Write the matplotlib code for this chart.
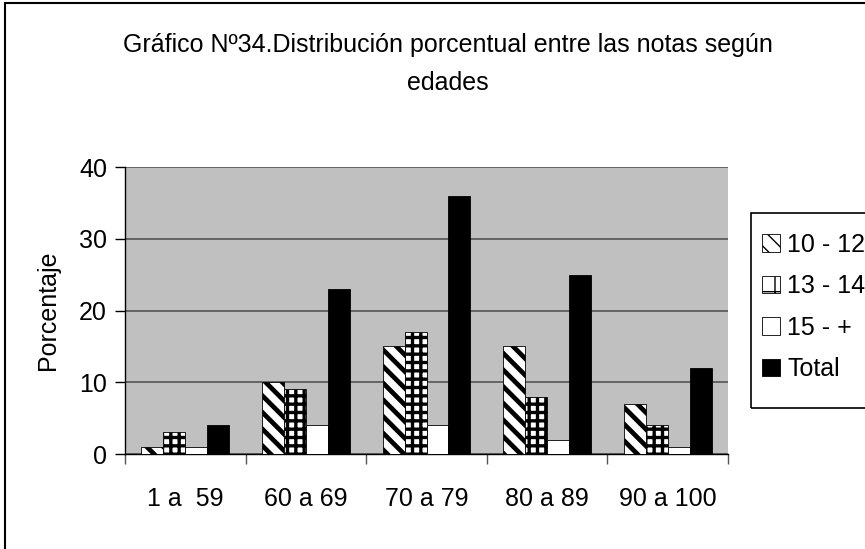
import matplotlib
matplotlib.use("Agg")
import matplotlib.pyplot as plt
from matplotlib.patches import Rectangle, Patch
import numpy as np

# Data: percentage of students in each grade band, by age group
categories = ["1 a  59", "60 a 69", "70 a 79", "80 a 89", "90 a 100"]
series_names = ["10 - 12", "13 - 14", "15 - +", "Total"]
edad_10_12 = [1, 10, 15, 15, 7]
edad_13_14 = [3, 9, 17, 8, 4]
edad_15_mas = [1, 4, 4, 2, 1]
total = [4, 23, 36, 25, 12]
y_ticks = [0, 10, 20, 30, 40]

series = [edad_10_12, edad_13_14, edad_15_mas, total]
faces = ["white", "white", "white", "black"]
hatches = ["\\\\", "++", "", ""]
hatch_lw = [3.4, 2.4, 1.0, 1.0]

FS = 18
plt.rcParams["font.family"] = ["Liberation Sans", "DejaVu Sans"]

fig = plt.figure(figsize=(8.65, 5.49), dpi=100)
ax = fig.add_axes([125 / 865, 1 - 454 / 549, (728 - 125) / 865, (454 - 167.3) / 549])
ax.set_facecolor("#c0c0c0")

n = len(series)
x = np.arange(len(categories))
width = 1 / (n + 1.5)
for i, (vals, fc, h, hl) in enumerate(zip(series, faces, hatches, hatch_lw)):
    with plt.rc_context({"hatch.linewidth": hl, "hatch.color": "black"}):
        bars = ax.bar(x + (i - (n - 1) / 2) * width, vals, width=width,
                      color=fc, edgecolor="black", linewidth=0.6, hatch=h,
                      label=series_names[i], zorder=3)
        for b in bars:
            if hasattr(b, "set_hatch_linewidth"):
                b.set_hatch_linewidth(hl)

ax.set_xlim(-0.5, len(categories) - 0.5)
ax.set_ylim(0, 40)
ax.set_yticks(y_ticks)
ax.set_yticklabels([str(t) for t in y_ticks])
ax.yaxis.grid(True, color="#555555", linewidth=1.2, zorder=1)
ax.set_axisbelow(True)

# Category labels centred on groups, ticks on group boundaries
ax.set_xticks(np.arange(len(categories) + 1) - 0.5)
ax.set_xticklabels([])
ax.set_xticks(x, minor=True)
ax.set_xticklabels(categories, minor=True)
ax.tick_params(axis="x", which="minor", length=0, pad=24, labelsize=FS)
ax.tick_params(axis="x", which="major", direction="out", length=7, width=1, color="#555555")
ax.tick_params(axis="y", direction="out", length=7, width=1, labelsize=FS, pad=6)

for side in ["top", "right"]:
    ax.spines[side].set_visible(False)
ax.spines["left"].set_linewidth(1.0)
ax.spines["bottom"].set_linewidth(1.0)

ax.set_ylabel("Porcentaje", fontsize=FS, labelpad=14)

fig.text(448 / 865, 1 - 45 / 549,
         "Gráfico Nº34.Distribución porcentual entre las notas según",
         ha="center", va="center", fontsize=FS)
fig.text(448 / 865, 1 - 83 / 549, "edades", ha="center", va="center", fontsize=FS)

# Outer chart border
fig.patches.append(Rectangle((5 / 865, -0.05), 1.1, 1 - 3 / 549 + 0.05,
                             transform=fig.transFigure, fill=False,
                             edgecolor="black", linewidth=1.5))
# Legend frame
fig.patches.append(Rectangle((751 / 865, 1 - 408 / 549), 0.2, (408 - 213) / 549,
                             transform=fig.transFigure, fill=False,
                             edgecolor="black", linewidth=1.2))

handles = []
for name, fc, h, hl in zip(series_names, faces, hatches, hatch_lw):
    with plt.rc_context({"hatch.linewidth": hl * 0.6}):
        p = Patch(facecolor=fc, edgecolor="black", hatch=h.replace("++", "+"),
                  linewidth=0.6, label=name)
    handles.append(p)
leg = fig.legend(handles=handles, loc="upper left",
                 bbox_to_anchor=(752 / 865, 1 - 223 / 549), frameon=False,
                 fontsize=FS, handlelength=0.7, handleheight=0.7,
                 handletextpad=0.3, labelspacing=0.7, borderaxespad=0)

fig.savefig("out.png", dpi=100)
